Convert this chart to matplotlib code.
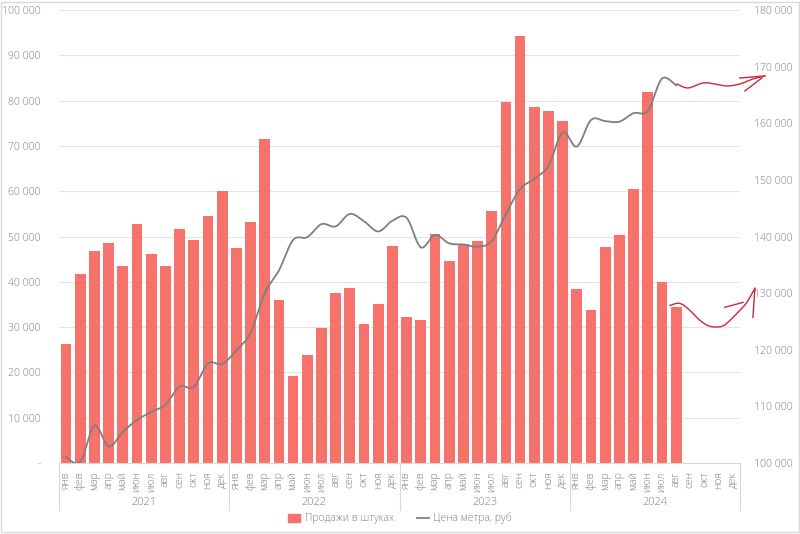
import numpy as np
import matplotlib.pyplot as plt
from matplotlib.patches import Patch, Rectangle
from matplotlib.lines import Line2D
import matplotlib.transforms as mtransforms

months = ['янв', 'фев', 'мар', 'апр', 'май', 'июн', 'июл', 'авг', 'сен', 'окт', 'ноя', 'дек']
years = ['2021', '2022', '2023', '2024']

# sales, units (Jan 2021 - Aug 2024)
sales = [26300, 41800, 46800, 48500, 43600, 52800, 46200, 43500, 51700, 49200, 54500, 60100,
         47400, 53200, 71600, 36100, 19200, 23800, 29900, 37600, 38600, 30600, 35200, 48000,
         32300, 31600, 50600, 44700, 48300, 49100, 55600, 79800, 94200, 78700, 77800, 75600,
         38500, 33700, 47600, 50300, 60400, 81900, 40000, 34500]

# price per square meter, rub
price = [101000, 100200, 106600, 102900, 105500, 107600, 109000, 110300, 113500, 113400, 117600, 117500,
         119900, 123000, 130000, 134000, 139400, 139900, 142200, 141800, 144000, 142700, 140900, 142800,
         143300, 138100, 140300, 138800, 138600, 138200, 139200, 144000, 148400, 150200, 152500, 158400,
         155900, 160600, 160400, 160300, 161800, 162200, 167900, 166700]

# hand-drawn red forecast scribbles (month index, price)
up_x = [43.05, 43.83, 44.88, 45.73, 46.58, 47.49, 48.41, 49.25]
up_y = [166960, 166250, 167130, 166960, 166600, 166960, 167840, 168370]
down_x = [42.56, 43.26, 43.97, 44.67, 45.38, 46.22, 46.79, 47.49, 47.98, 48.55]
down_y = [127840, 128190, 126960, 125200, 124140, 124140, 125200, 126960, 128370, 130840]

BAR = '#F7726A'
LINE = '#7F7F7F'
TXT = '#7F7F7F'
RED = '#D0263A'

plt.rcParams['font.family'] = ['Open Sans', 'DejaVu Sans']
plt.rcParams['font.weight'] = 'light'


def smooth(x, y, n=20):
    # catmull-rom, like excel's smoothed line
    x = np.asarray(x, float)
    y = np.asarray(y, float)
    px = np.r_[x[0], x, x[-1]]
    py = np.r_[y[0], y, y[-1]]
    t = np.linspace(0, 1, n, endpoint=False)
    xs, ys = [], []
    for i in range(len(x) - 1):
        for arr, out in ((px, xs), (py, ys)):
            p0, p1, p2, p3 = arr[i:i + 4]
            out.append(0.5 * (2 * p1 + (-p0 + p2) * t + (2 * p0 - 5 * p1 + 4 * p2 - p3) * t ** 2
                              + (-p0 + 3 * p1 - 3 * p2 + p3) * t ** 3))
    xs.append([x[-1]])
    ys.append([y[-1]])
    return np.concatenate(xs), np.concatenate(ys)


def fmt(v):
    return '{:,.0f}'.format(v).replace(',', ' ')


n_cat = len(months) * len(years)
xpos = np.arange(n_cat)

fig = plt.figure(figsize=(8, 5.34), dpi=100)
ax = fig.add_axes([0.07375, 0.133, 0.85125, 0.848])
ax2 = ax.twinx()

ax.set_axisbelow(True)
ax.bar(xpos[:len(sales)], sales, width=0.76, color=BAR, zorder=2)
ax.set_xlim(-0.5, n_cat - 0.5)
ax.set_ylim(0, 100000)
yt = np.arange(0, 100001, 10000)
ax.set_yticks(yt)
ax.set_yticklabels(['-'] + [fmt(v) for v in yt[1:]])
ax.yaxis.grid(True, color='#E4E4E4', lw=0.8)
ax.tick_params(axis='y', length=0, pad=13, labelsize=7.5, labelcolor=TXT)
ax.set_xticks(xpos)
ax.set_xticklabels(months * len(years), rotation=90)
ax.tick_params(axis='x', length=0, pad=6, labelsize=7.5, labelcolor=TXT)
for s in ['top', 'left', 'right']:
    ax.spines[s].set_visible(False)
ax.spines['bottom'].set_color('#D9D9D9')

lx, ly = smooth(xpos[:len(price)], price)
ax2.plot(lx, ly, color=LINE, lw=1.3, zorder=3)
ax2.set_ylim(100000, 180000)
yt2 = np.arange(100000, 180001, 10000)
ax2.set_yticks(yt2)
ax2.set_yticklabels([fmt(v) for v in yt2])
ax2.tick_params(axis='y', length=0, pad=10, labelsize=7.5, labelcolor=TXT)
for s in ax2.spines.values():
    s.set_visible(False)

for sx, sy in ((up_x, up_y), (down_x, down_y)):
    cx, cy = smooth(sx, sy)
    ax2.plot(cx, cy, color=RED, lw=1.0, clip_on=False, zorder=4)
# arrow heads
ax2.plot([47.49, 49.25], [168010, 168370], color=RED, lw=1.0, clip_on=False)
ax2.plot([47.84, 49.04], [165720, 168010], color=RED, lw=1.0, clip_on=False)
ax2.plot([46.43, 47.7], [127490, 128370], color=RED, lw=1.0, clip_on=False)
ax2.plot([48.55, 48.41], [130840, 125730], color=RED, lw=1.0, clip_on=False)

# year groups under the month labels
tr = mtransforms.blended_transform_factory(ax.transData, ax.transAxes)
for k in range(len(years) + 1):
    xb = k * len(months) - 0.5
    ax.plot([xb, xb], [0, -0.104], transform=tr, color='#D9D9D9', lw=0.8, clip_on=False)
for k, yr in enumerate(years):
    ax.text(k * len(months) + 5.5, -0.087, yr, transform=tr, ha='center', va='center',
            fontsize=8, color=TXT)

handles = [Patch(color=BAR), Line2D([], [], color=LINE, lw=1.3)]
fig.legend(handles, ['Продажи в штуках', 'Цена метра, руб'], loc='center', ncol=2,
           bbox_to_anchor=(0.5, 0.029), frameon=False, fontsize=7.5, labelcolor=TXT,
           handlelength=1.2, handleheight=0.8, columnspacing=2.2, handletextpad=0.4,
           borderpad=0.1)

fig.add_artist(Rectangle((0.001, 0.004), 0.998, 0.993, transform=fig.transFigure,
                         fill=False, edgecolor='#D9D9D9', lw=1))

fig.savefig('out.png', dpi=100)
